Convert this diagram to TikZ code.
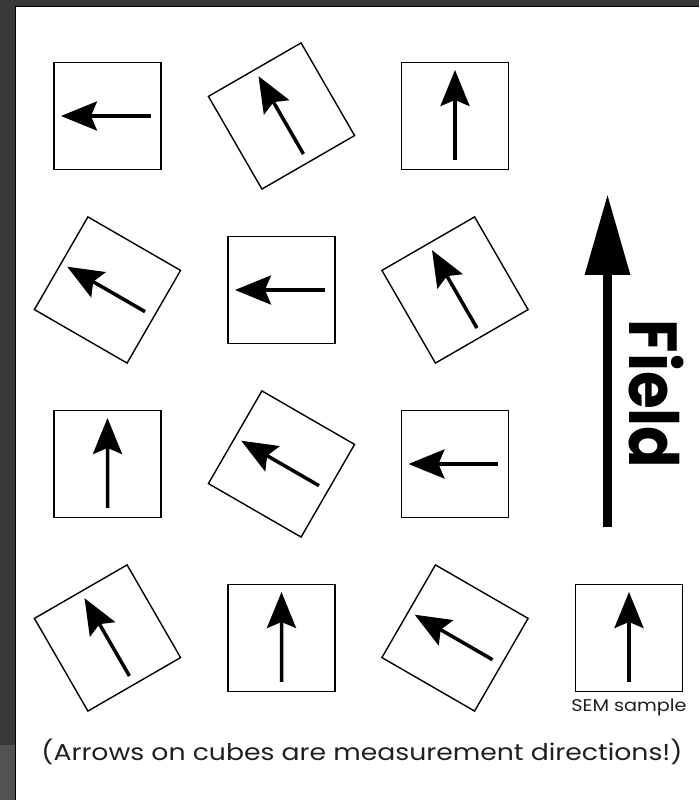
\documentclass[tikz,border=0pt]{standalone}
\usepackage{fontspec}
\setmainfont{Poppins}
\usepackage{graphicx}
\usetikzlibrary{positioning,arrows.meta,calc}

\begin{document}
\begin{tikzpicture}[
  x=1pt, y=1pt,
  cube/.style={draw, line width=1.4pt, minimum size=107pt, inner sep=0pt, outer sep=0pt},
  dirarr/.style={-{Stealth[length=36pt, width=29pt, inset=6pt]}, line width=3.5pt},
  fieldarr/.style={-{Triangle[length=81pt, width=43pt]}, line width=9.5pt},
  lbl/.style={text=black!88, inner sep=0pt},
]

% Window frame
\useasboundingbox (0,0) rectangle (699,800);
\fill[black!78] (0,0) rectangle (15,800);
\fill[black!78] (0,794) rectangle (699,800);
\fill[black!68] (0,0) rectangle (15,55);
\draw[line width=1.2pt] (15.5,0) -- (15.5,793.5) -- (699,793.5);

% Cubes, row by row
\node[cube] (c11) at (107.5,684) {};
\node[cube, rotate=30] (c12) at (281.5,684) {};
\node[cube] (c13) at (455,684) {};

\node[cube, rotate=-30] (c21) at (107.5,510) {};
\node[cube] (c22) at (281.5,510) {};
\node[cube, rotate=30] (c23) at (455,510) {};

\node[cube] (c31) at (107.5,336) {};
\node[cube, rotate=-30] (c32) at (281.5,336) {};
\node[cube] (c33) at (455,336) {};

\node[cube, rotate=30] (c41) at (107.5,162) {};
\node[cube] (c42) at (281.5,162) {};
\node[cube, rotate=-30] (c43) at (455,162) {};
\node[cube] (sem) at (629,162) {};

% Measurement directions
\foreach \c in {c11,c21,c22,c32,c33,c43}
  \draw[dirarr] ($(\c.center)!0.81!(\c.east)$) -- ($(\c.center)!0.87!(\c.west)$);
\foreach \c in {c12,c13,c23,c31,c41,c42,sem}
  \draw[dirarr] ($(\c.center)!0.82!(\c.south)$) -- ($(\c.center)!0.86!(\c.north)$);

% Field
\coordinate (fbase) at (607.5,273);
\coordinate (ftip) at (607.5,606);
\draw[fieldarr] (fbase) -- (ftip);
\node[lbl, text=black, font=\bfseries\fontsize{68}{68}\selectfont, rotate=-90] (fieldlbl) at (656,406) {\scalebox{0.9}[1]{Field}};

% Labels
\node[lbl, font=\fontsize{17}{20}\selectfont, below=7pt of sem] (semlbl) {\scalebox{1.13}[1]{SEM sample}};
\node[lbl, font=\fontsize{23}{26}\selectfont] (note) at (362,48) {\scalebox{1.16}[1]{(Arrows on cubes are measurement directions!)}};

\end{tikzpicture}
\end{document}
